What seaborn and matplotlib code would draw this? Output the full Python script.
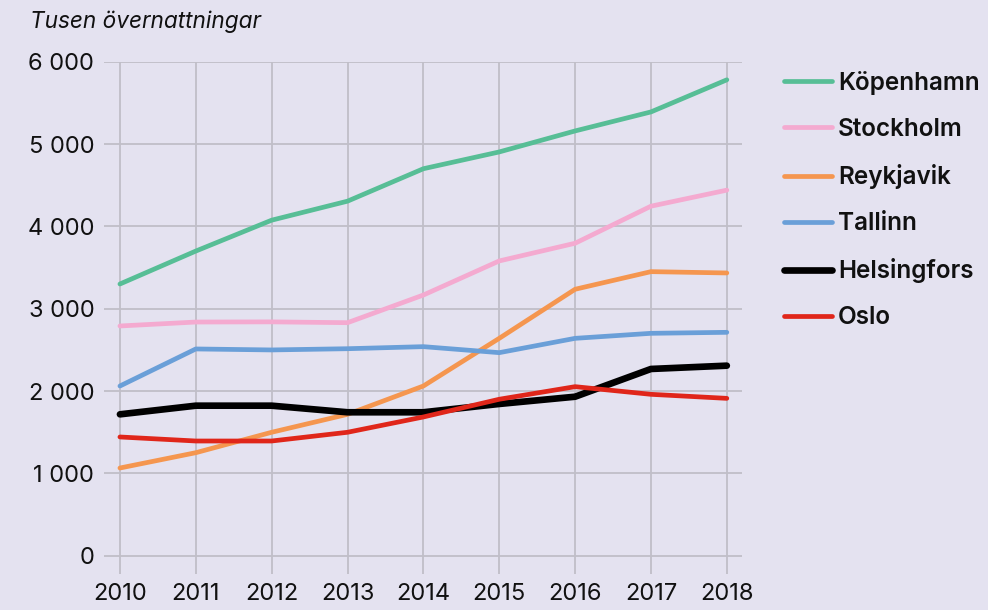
import matplotlib
matplotlib.use("Agg")
import matplotlib.pyplot as plt
from matplotlib.ticker import FuncFormatter
import seaborn as sns
import pandas as pd

years = [2010, 2011, 2012, 2013, 2014, 2015, 2016, 2017, 2018]
kopenhamn = [3300, 3700, 4075, 4306, 4700, 4904, 5159, 5390, 5780]
stockholm = [2790, 2838, 2840, 2830, 3166, 3580, 3795, 4245, 4440]
reykjavik = [1065, 1251, 1499, 1717, 2061, 2640, 3236, 3450, 3434]
tallinn = [2061, 2511, 2499, 2514, 2539, 2466, 2640, 2701, 2713]
helsingfors = [1717, 1822, 1822, 1742, 1742, 1843, 1931, 2268, 2308]
oslo = [1442, 1393, 1393, 1499, 1685, 1900, 2053, 1960, 1911]

cities = ["Köpenhamn", "Stockholm", "Reykjavik", "Tallinn", "Helsingfors", "Oslo"]
series = [kopenhamn, stockholm, reykjavik, tallinn, helsingfors, oslo]
colors = ["#57be96", "#f4aad0", "#f5964f", "#6a9fd8", "#000000", "#e0261a"]
widths = [3.4, 3.4, 3.4, 3.4, 4.8, 3.4]
y_ticks = [0, 1000, 2000, 3000, 4000, 5000, 6000]

bg = "#e4e2f0"
grid_col = "#c0bec8"

sns.set_theme(style="white")
plt.rcParams["font.family"] = ["Inter", "DejaVu Sans"]

fig = plt.figure(figsize=(9.88, 6.10), dpi=100, facecolor=bg)
ax = fig.add_axes([104 / 988, 1 - 574.3 / 610, (742 - 104) / 988, (574.3 - 61.7) / 610])
ax.set_facecolor(bg)

df = pd.DataFrame({c: s for c, s in zip(cities, series)}, index=years)
df.index.name = "År"
long = df.reset_index().melt(id_vars="År", var_name="Stad", value_name="Övernattningar")

for city, col, lw in zip(cities, colors, widths):
    sub = long[long["Stad"] == city]
    sns.lineplot(data=sub, x="År", y="Övernattningar", color=col, linewidth=lw,
                 label=city, ax=ax, solid_capstyle="round", solid_joinstyle="round",
                 zorder=3)

ax.set_xlim(2009.79, 2018.2)
ax.set_ylim(-226, 6000)
ax.set_xticks(years)
ax.set_yticks(y_ticks)
ax.yaxis.set_major_formatter(FuncFormatter(lambda v, p: f"{int(v):,}".replace(",", " ")))
ax.grid(True, color=grid_col, linewidth=1.3)
ax.set_axisbelow(True)
for s in ax.spines.values():
    s.set_visible(False)
ax.tick_params(axis="both", length=0, labelsize=17, colors="#111111")
ax.tick_params(axis="y", pad=7)
ax.tick_params(axis="x", pad=6.5)
ax.set_xlabel("")
ax.set_ylabel("")

ax.legend_.remove()
handles, labels = ax.get_legend_handles_labels()
leg = fig.legend(handles, labels, loc="upper left", bbox_to_anchor=(762 / 988, 1 - 49 / 610),
                 frameon=False, handlelength=1.97, handletextpad=0.25, labelspacing=0.95,
                 prop={"size": 17.5, "weight": "semibold"})
for t in leg.get_texts():
    t.set_color("#111111")

fig.text(30 / 988, 1 - 22 / 610, "Tusen övernattningar", fontsize=16.3, style="italic",
         color="#111111", va="center", ha="left")

fig.savefig("out.png", dpi=100, facecolor=bg)
